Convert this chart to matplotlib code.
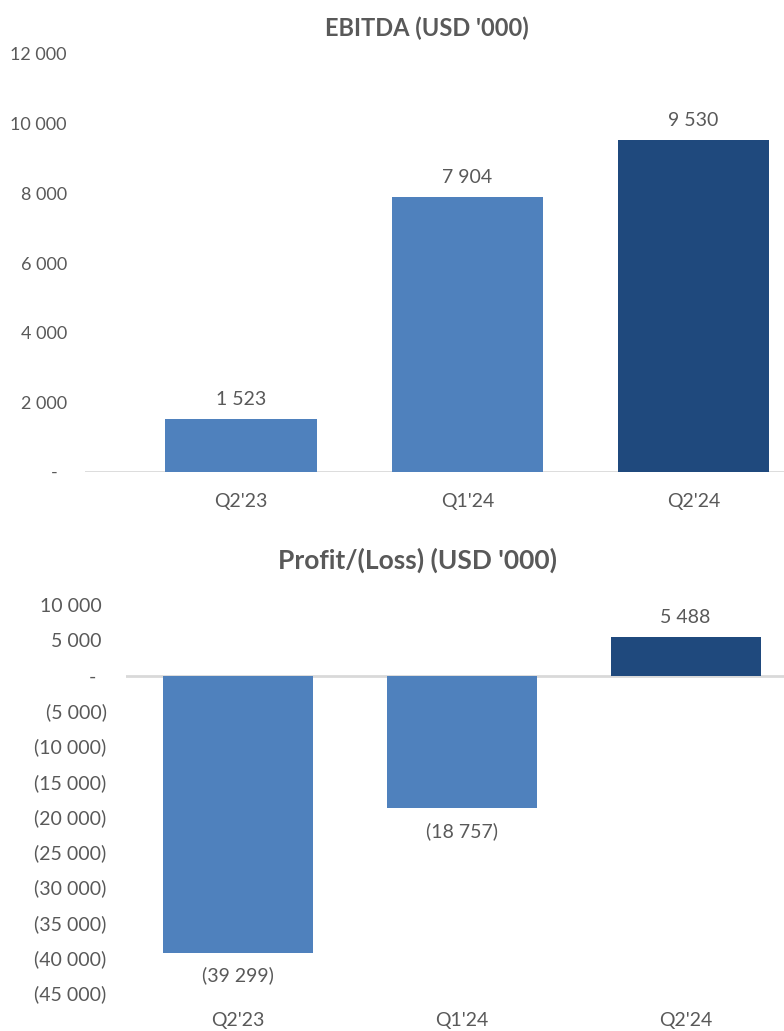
import matplotlib.pyplot as plt

quarters = ["Q2'23", "Q1'24", "Q2'24"]
ebitda = [1523, 7904, 9530]
profit = [-39299, -18757, 5488]
ebitda_ticks = [0, 2000, 4000, 6000, 8000, 10000, 12000]
profit_ticks = [10000, 5000, 0, -5000, -10000, -15000, -20000,
                -25000, -30000, -35000, -40000, -45000]

LIGHT = '#4F81BD'
DARK = '#1F497D'
TEXT = '#595959'
LINE = '#D9D9D9'

plt.rcParams['font.family'] = ['Lato', 'DejaVu Sans']


def fmt(v, trailing=True):
    # accounting style: space as thousands sep, parens for negatives, dash for zero
    if v == 0:
        return '-  '
    s = f"{abs(v):,}".replace(',', ' ')
    if v < 0:
        return '(' + s + ')'
    return s + (' ' if trailing else '')


def style(ax):
    for sp in ax.spines.values():
        sp.set_visible(False)
    ax.tick_params(axis='both', length=0, colors=TEXT, labelsize=14)
    ax.axhline(0, color=LINE, lw=2, zorder=1)


fig = plt.figure(figsize=(7.84, 10.31), dpi=100)

# EBITDA
ax1 = fig.add_axes([85 / 784, 1 - 472 / 1031, 1 - 85 / 784, (472 - 54) / 1031])
colors = [LIGHT, LIGHT, DARK]
ax1.bar(range(3), ebitda, width=0.67, color=colors, zorder=2)
ax1.set_ylim(0, 12000)
ax1.set_xlim(-0.69, 2.40)
ax1.set_yticks(ebitda_ticks)
ax1.set_yticklabels([fmt(v, False) if v else '-  ' for v in ebitda_ticks])
ax1.set_xticks(range(3))
ax1.set_xticklabels(quarters)
style(ax1)
ax1.tick_params(axis='y', pad=13, labelsize=13)
ax1.tick_params(axis='x', pad=15)
for i, v in enumerate(ebitda):
    ax1.annotate(fmt(v, False), (i, v), xytext=(0, 8), textcoords='offset points',
                 ha='center', va='bottom', color=TEXT, fontsize=14)
fig.text(0.5 + 35 / 784, 1 - 28 / 1031, "EBITDA (USD '000)", ha='center', va='center',
         fontsize=17, fontweight='bold', color=TEXT)

# Profit/(Loss)
ax2 = fig.add_axes([126 / 784, 1 - 993 / 1031, 1 - 126 / 784, (993 - 605) / 1031])
ax2.bar(range(3), profit, width=0.67, color=colors, zorder=2)
ax2.set_ylim(-45000, 10000)
ax2.set_xlim(-0.5, 2.44)
ax2.set_yticks(profit_ticks)
ax2.set_yticklabels([fmt(v) for v in profit_ticks])
ax2.set_xticks(range(3))
ax2.set_xticklabels(quarters)
style(ax2)
ax2.tick_params(axis='y', pad=14)
ax2.tick_params(axis='x', pad=14)
for i, v in enumerate(profit):
    off = 8 if v >= 0 else -10
    ax2.annotate(fmt(v, False), (i, v), xytext=(0, off), textcoords='offset points',
                 ha='center', va='bottom' if v >= 0 else 'top', color=TEXT, fontsize=14)
fig.text(0.5 + 25 / 784, 1 - 560 / 1031, "Profit/(Loss) (USD '000)", ha='center', va='center',
         fontsize=19, fontweight='bold', color=TEXT)

fig.savefig('out.png', dpi=100)
